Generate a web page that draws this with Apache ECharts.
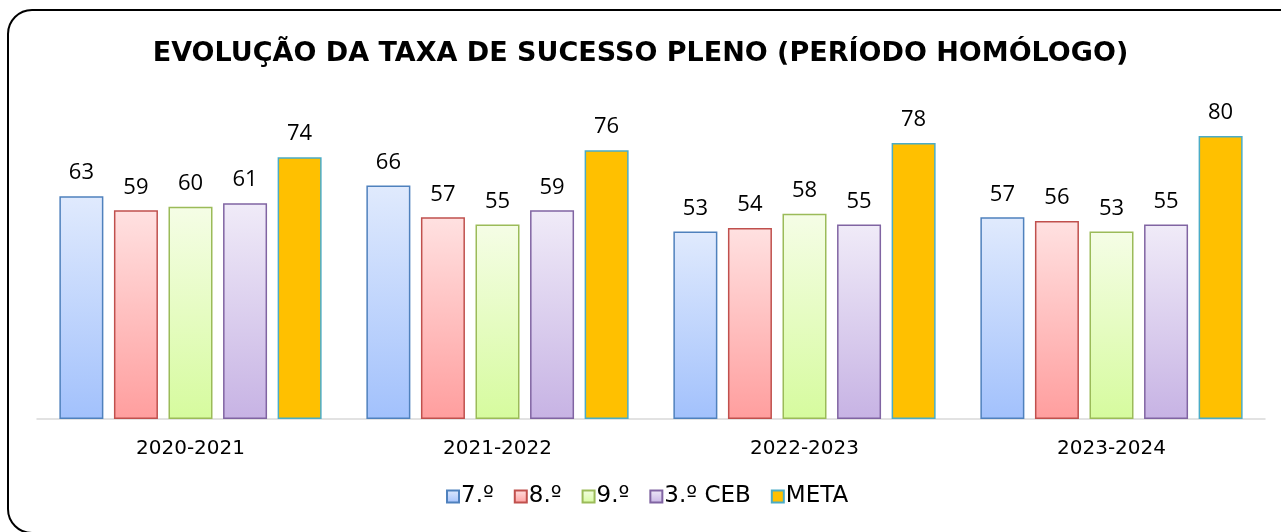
<!DOCTYPE html>
<html>
<head>
<meta charset="utf-8">
<script src="https://cdn.jsdelivr.net/npm/echarts@6/dist/echarts.min.js"></script>
<style>
  html, body { margin: 0; padding: 0; background: #fff; }
  #chart { width: 1281px; height: 532px; }
</style>
</head>
<body>
<div id="chart"></div>
<script>
const categories = ["2020-2021", "2021-2022", "2022-2023", "2023-2024"];
const serieNames = ["7.º", "8.º", "9.º", "3.º CEB", "META"];
const valores7 = [63, 66, 53, 57];
const valores8 = [59, 57, 54, 56];
const valores9 = [60, 55, 58, 53];
const valoresCEB = [61, 59, 55, 55];
const valoresMeta = [74, 76, 78, 80];

// top colour, bottom colour, border
const estilos = [
  ["#e0eafd", "#a2c1fc", "#4f81bd"],
  ["#ffe1e1", "#ff9e9e", "#c0504d"],
  ["#f5fde6", "#d6fb9e", "#9bbb59"],
  ["#f0ebf8", "#c7b3e4", "#8064a2"],
  ["#ffc000", "#ffc000", "#4bacc6"],
];

const dados = [valores7, valores8, valores9, valoresCEB, valoresMeta];

const chart = echarts.init(document.getElementById("chart"), null, { renderer: "canvas" });

chart.setOption({
  backgroundColor: "#fff",
  animation: false,
  title: {
    text: "EVOLUÇÃO DA TAXA DE SUCESSO PLENO (PERÍODO HOMÓLOGO)",
    left: "center",
    top: 35,
    textStyle: { fontFamily: "DejaVu Sans", fontWeight: "bold", fontSize: 27, color: "#000" },
  },
  graphic: [{
    type: "rect",
    shape: { x: 8, y: 10, width: 1300, height: 523, r: 24 },
    style: { fill: "none", stroke: "#000", lineWidth: 2 },
    silent: true,
  }],
  legend: {
    bottom: 19,
    left: 441,
    itemWidth: 12,
    itemHeight: 12,
    itemGap: 20,
    icon: "rect",
    textStyle: { fontFamily: "DejaVu Sans", fontSize: 23, color: "#000", padding: [0, 0, 0, -3] },
    data: serieNames,
  },
  grid: { left: 37, right: 16, top: 136, bottom: 113 },
  xAxis: {
    type: "category",
    data: categories,
    axisLine: { lineStyle: { color: "#d9d9d9", width: 1.5 } },
    axisTick: { show: false },
    axisLabel: { color: "#000", fontFamily: "DejaVu Sans", fontSize: 20, margin: 20 },
  },
  yAxis: { type: "value", min: 0, max: 80, show: false, splitLine: { show: false } },
  series: dados.map((vals, i) => ({
    name: serieNames[i],
    type: "bar",
    data: vals,
    barWidth: 44,
    barGap: "24%",
    itemStyle: {
      color: new echarts.graphic.LinearGradient(0, 0, 0, 1, [
        { offset: 0, color: estilos[i][0] },
        { offset: 1, color: estilos[i][1] },
      ]),
      borderColor: estilos[i][2],
      borderWidth: 1.5,
    },
    label: {
      show: true,
      position: "top",
      distance: 12,
      color: "#000",
      fontFamily: "Open Sans",
      fontSize: 22,
    },
  })),
});
</script>
</body>
</html>
